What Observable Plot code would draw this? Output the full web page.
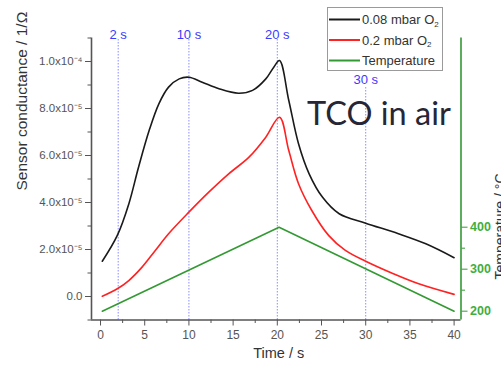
<!DOCTYPE html>
<html>
<head>
<meta charset="utf-8">
<script src="https://cdn.jsdelivr.net/npm/d3@7"></script>
<script src="https://cdn.jsdelivr.net/npm/@observablehq/plot@0.6"></script>
<style>
  html, body { margin: 0; padding: 0; background: #fff; }
  #chart { position: relative; width: 501px; height: 366px; overflow: hidden; font-family: "Liberation Sans", Arial, sans-serif; }
  #chart > svg { position: absolute; left: 0; top: 0; }
  #chart > #tco { position: absolute; left: 307px; top: 97px; font-family: Lato, "Open Sans", sans-serif; font-size: 32.5px; color: #262636; white-space: nowrap; line-height: 1; }
</style>
</head>
<body>
<div id="chart"></div>
<script>
// ---- data ----
const timeHigh = [0.2, 1.9, 3.2, 4.3, 5.5, 6.6, 7.7, 8.9, 10, 11.5, 13.4, 15.6, 17.2, 18.7, 19.6, 20.25, 21.3, 22.4, 23.6, 25.1, 27, 30, 33.7, 36.8, 40];
const cond008 = [1.50e-5, 2.6e-5, 3.94e-5, 5.5e-5, 7.06e-5, 8.2e-5, 8.91e-5, 9.26e-5, 9.33e-5, 9.12e-5, 8.84e-5, 8.65e-5, 8.77e-5, 9.26e-5, 9.76e-5, 10.04e-5, 8.34e-5, 6.5e-5, 5.22e-5, 4.23e-5, 3.52e-5, 3.12e-5, 2.67e-5, 2.24e-5, 1.65e-5];
const timeLow = [0.2, 1.9, 3.2, 4.7, 6.2, 7.7, 10, 12.25, 14.5, 16.8, 18.7, 20.25, 21.3, 22.4, 23.9, 25.8, 27.7, 30, 33, 36, 40];
const cond02 = [0.01e-5, 0.33e-5, 0.68e-5, 1.25e-5, 1.96e-5, 2.67e-5, 3.59e-5, 4.44e-5, 5.22e-5, 5.93e-5, 6.78e-5, 7.63e-5, 6.21e-5, 4.8e-5, 3.66e-5, 2.6e-5, 1.96e-5, 1.5e-5, 0.99e-5, 0.54e-5, 0.09e-5];
const timeTemp = [0.2, 20.2, 40];
const temperature = [200, 400, 200];

const markerTimes = [2, 10, 20, 30];
const markerLabels = ["2 s", "10 s", "20 s", "30 s"];

const seriesNames = ["0.08 mbar O", "0.2 mbar O", "Temperature"];
const seriesSubs = ["2", "2", ""];
const seriesColors = ["#1a1a1a", "#ff2222", "#339933"];

const xTicks = [0, 5, 10, 15, 20, 25, 30, 35, 40];
const xMinorTicks = [2.5, 7.5, 12.5, 17.5, 22.5, 27.5, 32.5, 37.5];
const yTicks = [0, 2e-5, 4e-5, 6e-5, 8e-5, 1e-4];
const yMinorTicks = [-1e-5, 1e-5, 3e-5, 5e-5, 7e-5, 9e-5, 1.1e-4];
const tTicks = [200, 300, 400];
const tMinorTicks = [250, 350];

const xLabel = "Time / s";
const yLabel = "Sensor conductance / 1/Ω";
const tLabel = "Temperature / °C";
const annotation = "TCO in air";

// ---- layout ----
const W = 501, H = 366;
const margins = {marginLeft: 91, marginRight: 40.5, marginTop: 37.5, marginBottom: 46.5};
const xDomain = [-1.02, 40.78];
const condDomain = [-1e-5, 1.1e-4];
const tempDomain = [179, 850.5];
const grayAxis = "#555";
const green = seriesColors[2];
const greenText = "#3fae3f";
const blue = "#3b3bff";

const highData = timeHigh.map((t, i) => ({t, v: cond008[i]}));
const lowData = timeLow.map((t, i) => ({t, v: cond02[i]}));
const tempData = timeTemp.map((t, i) => ({t, v: temperature[i]}));
const markers = markerTimes.map((t, i) => ({t, label: markerLabels[i], low: t === 30}));

const supMap = {"-": "⁻", "0": "⁰", "1": "¹", "2": "²", "3": "³", "4": "⁴", "5": "⁵", "6": "⁶", "7": "⁷", "8": "⁸", "9": "⁹"};
function sciFormat(d) {
  if (d === 0) return "0.0";
  const e = Math.floor(Math.log10(Math.abs(d)) + 1e-9);
  return (d / Math.pow(10, e)).toFixed(1) + "x10" + String(e).split("").map(c => supMap[c]).join("");
}

const baseStyle = {fontFamily: "'Liberation Sans', Arial, sans-serif", background: "transparent", overflow: "visible"};

const p1 = Plot.plot({
  width: W, height: H, ...margins,
  x: {domain: xDomain},
  y: {domain: condDomain},
  style: baseStyle,
  marks: [
    Plot.ruleX(markers, {x: "t", y1: condDomain[0], y2: d => d.low ? 8.89e-5 : condDomain[1], stroke: "#8c8cff", strokeWidth: 1, strokeDasharray: "1.5,1.5"}),
    Plot.text(markers.filter(d => !d.low), {x: "t", frameAnchor: "top", dy: -8, text: "label", fill: blue, fontSize: 13}),
    Plot.text(markers.filter(d => d.low), {x: "t", y: 9.2e-5, text: "label", fill: blue, fontSize: 13}),
    Plot.line(highData, {x: "t", y: "v", stroke: seriesColors[0], strokeWidth: 1.6, curve: "catmull-rom"}),
    Plot.line(lowData, {x: "t", y: "v", stroke: seriesColors[1], strokeWidth: 1.6, curve: "catmull-rom"}),
    Plot.axisY({ticks: yTicks, tickSize: 6, tickPadding: 3, tickFormat: sciFormat, fontSize: 11.5, color: grayAxis, label: null}),
    Plot.axisY({ticks: yMinorTicks, tickSize: 3.5, tickFormat: () => "", color: grayAxis, label: null}),
    Plot.axisX({ticks: xTicks, tickSize: 6, tickPadding: 4, fontSize: 12, color: grayAxis, label: null}),
    Plot.axisX({ticks: xMinorTicks, tickSize: 3.5, tickFormat: () => "", color: grayAxis, label: null}),
    Plot.ruleX([xDomain[0]], {stroke: grayAxis, strokeWidth: 1.6}),
    Plot.ruleY([condDomain[0]], {stroke: grayAxis, strokeWidth: 1.6}),
    Plot.text([yLabel], {frameAnchor: "left", dx: -69, dy: 11.5, rotate: -90, fontSize: 15.5, fill: "#333"}),
    Plot.text([xLabel], {frameAnchor: "bottom", dx: 2.5, dy: 37.5, fontSize: 14.5, fill: "#333"})
  ]
});

const p2 = Plot.plot({
  width: W, height: H, ...margins,
  x: {domain: xDomain, axis: null},
  y: {domain: tempDomain},
  style: baseStyle,
  marks: [
    Plot.line(tempData, {x: "t", y: "v", stroke: green, strokeWidth: 1.6}),
    Plot.axisY({anchor: "right", ticks: tTicks, tickSize: 6, tickPadding: 3, fontSize: 12.5, fontWeight: "bold", stroke: green, fill: greenText, label: null}),
    Plot.axisY({anchor: "right", ticks: tMinorTicks, tickSize: 3.5, tickFormat: () => "", stroke: green, label: null}),
    Plot.ruleX([xDomain[1]], {stroke: green, strokeWidth: 1.6}),
    Plot.text([tLabel], {frameAnchor: "right", dx: 39.5, dy: -5.5, rotate: -90, fontSize: 14, fill: "#333"})
  ]
});

const chart = document.getElementById("chart");
chart.appendChild(p1);
chart.appendChild(p2);

// legend box
const leg = d3.create("svg").attr("width", W).attr("height", H)
  .style("position", "absolute").style("left", 0).style("top", 0)
  .style("font-family", "'Liberation Sans', Arial, sans-serif");
leg.append("rect").attr("x", 327.5).attr("y", 7.5).attr("width", 115).attr("height", 63)
  .attr("fill", "#fff").attr("stroke", "#9a9a9a").attr("stroke-width", 1);
seriesNames.forEach((name, i) => {
  const y = 19.5 + i * 20.5;
  leg.append("line").attr("x1", 329).attr("x2", 360).attr("y1", y).attr("y2", y)
    .attr("stroke", seriesColors[i]).attr("stroke-width", 2);
  const t = leg.append("text").attr("x", 362).attr("y", y).attr("dy", "0.35em")
    .attr("font-size", 13).attr("fill", "#333").text(name);
  if (seriesSubs[i]) t.append("tspan").attr("font-size", 8).attr("dy", "0.35em").text(seriesSubs[i]);
});
chart.appendChild(leg.node());

const tco = document.createElement("div");
tco.id = "tco";
tco.textContent = annotation;
chart.appendChild(tco);
</script>
</body>
</html>
